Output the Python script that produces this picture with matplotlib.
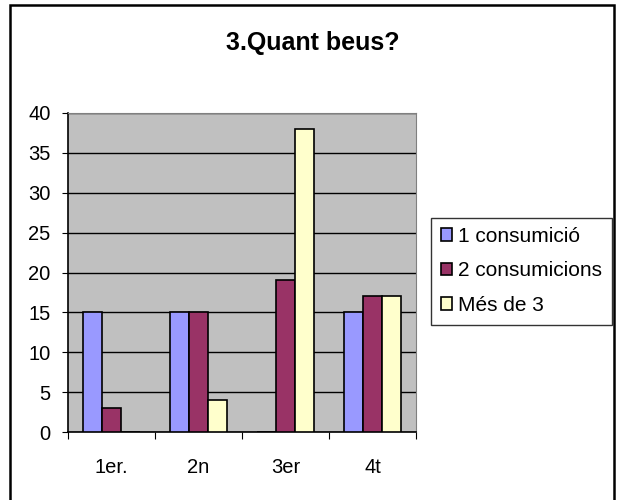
import matplotlib
matplotlib.use('Agg')
import matplotlib.pyplot as plt
from matplotlib.patches import Rectangle
import numpy as np

plt.rcParams['font.family'] = ['Liberation Sans', 'DejaVu Sans']

categories = ['1er.', '2n', '3er', '4t']
series_names = ['1 consumició', '2 consumicions', 'Més de 3']
una = [15, 15, 0, 15]
dues = [3, 15, 19, 17]
mes_de_3 = [0, 4, 38, 17]
colors = ['#9999FF', '#993366', '#FFFFCC']

W, H = 618, 500
fig = plt.figure(figsize=(W / 100, H / 100), dpi=100)

# outer chart frame
fig.patches.append(Rectangle((10 / W, -0.05), 604 / W, 1.05 - 5 / H,
                             transform=fig.transFigure, fill=False,
                             edgecolor='black', linewidth=1.8))

ax = fig.add_axes([68 / W, 1 - 432 / H, 348 / W, 319 / H])
ax.set_facecolor('#C0C0C0')

x = np.arange(len(categories)) + 0.5
bw = 0.222
for i, (vals, name) in enumerate(zip([una, dues, mes_de_3], series_names)):
    ax.bar(x + (i - 1) * bw, vals, width=bw, color=colors[i],
           edgecolor='black', linewidth=1.2, label=name, zorder=3)

ax.set_xlim(0, 4)
ax.set_ylim(0, 40)
ax.set_yticks(range(0, 41, 5))
ax.yaxis.grid(True, color='black', linewidth=1)
ax.set_axisbelow(True)

ax.set_xticks(range(0, 5))
ax.set_xticklabels([])
ax.set_xticks(x, minor=True)
ax.set_xticklabels(categories, minor=True, fontsize=14.5)
ax.tick_params(axis='x', which='major', length=5, direction='out', color='black')
ax.tick_params(axis='x', which='minor', length=0, pad=19)
ax.tick_params(axis='y', length=4.5, direction='out', pad=8, labelsize=14.5)

for s in ['top', 'right']:
    ax.spines[s].set_color('#808080')
for s in ['left', 'bottom']:
    ax.spines[s].set_color('black')
    ax.spines[s].set_linewidth(1.2)

fig.text(313 / W, 1 - 43 / H, '3.Quant beus?', ha='center', va='center',
         fontsize=18, fontweight='bold')

leg = fig.legend(loc='center', bbox_to_anchor=(521.5 / W, 1 - 271 / H),
                 fontsize=15, handlelength=0.55, handleheight=0.55,
                 handletextpad=0.3, labelspacing=0.75, borderpad=0.45,
                 fancybox=False, frameon=True, borderaxespad=0)
leg.get_frame().set_edgecolor('black')
leg.get_frame().set_linewidth(1)

fig.savefig('out.png', dpi=100)
